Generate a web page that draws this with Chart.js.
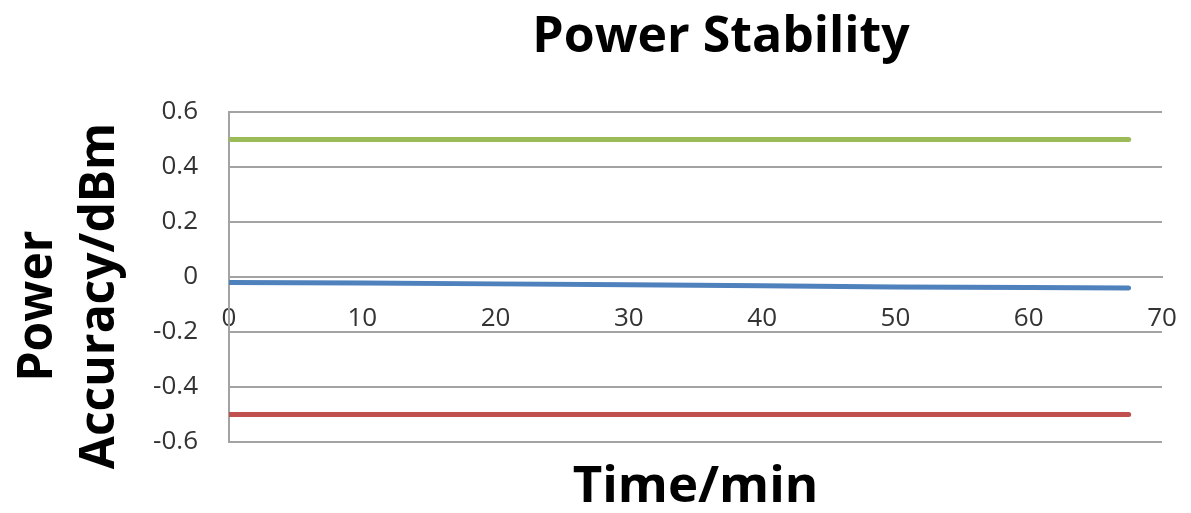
<!DOCTYPE html>
<html>
<head>
<meta charset="utf-8">
<script src="https://cdn.jsdelivr.net/npm/chart.js@4"></script>
<style>
  html, body { margin:0; padding:0; background:#fff; }
  #wrap { width:1191px; height:513px; }
</style>
</head>
<body>
<div id="wrap"><canvas id="chart" width="1191" height="513"></canvas></div>
<script>
/* ---- data ---- */
const times = [0, 10, 20, 30, 40, 50, 60, 67.5];            // minutes
const upperLimit = [0.5, 0.5, 0.5, 0.5, 0.5, 0.5, 0.5, 0.5];   // green
const measured = [-0.02, -0.022, -0.025, -0.028, -0.032, -0.036, -0.038, -0.04]; // blue
const lowerLimit = [-0.5, -0.5, -0.5, -0.5, -0.5, -0.5, -0.5, -0.5]; // red
const yTicks = [-0.6, -0.4, -0.2, 0, 0.2, 0.4, 0.6];
const xTicks = [0, 10, 20, 30, 40, 50, 60, 70];

const FONT = '"Open Sans"';
const GRID = '#a3a3a3';

function toPoints(vals){
  return times.map((t, i) => ({ x: t, y: vals[i] }));
}

function lineSet(label, vals, color){
  return {
    label: label,
    data: toPoints(vals),
    borderColor: color,
    backgroundColor: color,
    borderWidth: 5,
    pointRadius: 0,
    tension: 0,
    borderCapStyle: 'round'
  };
}

/* titles placed like in the original (chart title sits right of centre) */
const titlesPlugin = {
  id: 'titles',
  afterDraw(chart){
    const c = chart.ctx;
    c.save();
    c.fillStyle = '#000';
    c.textAlign = 'center';
    c.textBaseline = 'middle';
    c.font = 'bold 50px ' + FONT;
    c.fillText('Power Stability', 721, 38);
    c.font = 'bold 48px ' + FONT;
    c.save(); c.translate(38, 306); c.rotate(-Math.PI / 2); c.fillText('Power', 0, 0); c.restore();
    c.save(); c.translate(100, 296); c.rotate(-Math.PI / 2); c.fillText('Accuracy/dBm', 0, 0); c.restore();
    c.restore();
  }
};

const ctx = document.getElementById('chart').getContext('2d');
new Chart(ctx, {
  type: 'line',
  data: {
    datasets: [
      lineSet('Upper', upperLimit, '#9bbb59'),
      lineSet('Measured', measured, '#4f81bd'),
      lineSet('Lower', lowerLimit, '#c0504d')
    ]
  },
  plugins: [titlesPlugin],
  options: {
    responsive: false,
    animation: false,
    layout: { padding: { left: 0, right: 29, top: 112, bottom: 0 } },
    plugins: {
      legend: { display: false },
      tooltip: { enabled: false },
      title: { display: false },
      subtitle: {
        display: true,
        position: 'bottom',
        fullSize: false,
        text: 'Time/min',
        color: '#000',
        font: { family: FONT, size: 51, weight: 'bold', lineHeight: 1 },
        padding: { top: 20, bottom: 0 }
      }
    },
    scales: {
      x: {
        type: 'linear',
        position: { y: 0 },
        min: 0, max: 70,
        afterBuildTicks: axis => { axis.ticks = xTicks.map(v => ({ value: v })); },
        afterFit: axis => { axis.paddingLeft = 0; axis.paddingRight = 0; },
        grid: { display: false, drawTicks: false },
        border: { display: true, color: GRID, width: 2 },
        ticks: { color: '#333', padding: 26, font: { family: FONT, size: 26 } }
      },
      y: {
        min: -0.6, max: 0.6,
        afterBuildTicks: axis => { axis.ticks = yTicks.map(v => ({ value: v })); },
        afterFit: axis => { axis.width = 229; },
        grid: { color: GRID, lineWidth: 2, drawTicks: false },
        border: { display: true, color: GRID, width: 2 },
        ticks: {
          color: '#333', padding: 31, font: { family: FONT, size: 26 },
          callback: v => String(Math.round(v * 10) / 10)
        }
      }
    }
  }
});
</script>
</body>
</html>
